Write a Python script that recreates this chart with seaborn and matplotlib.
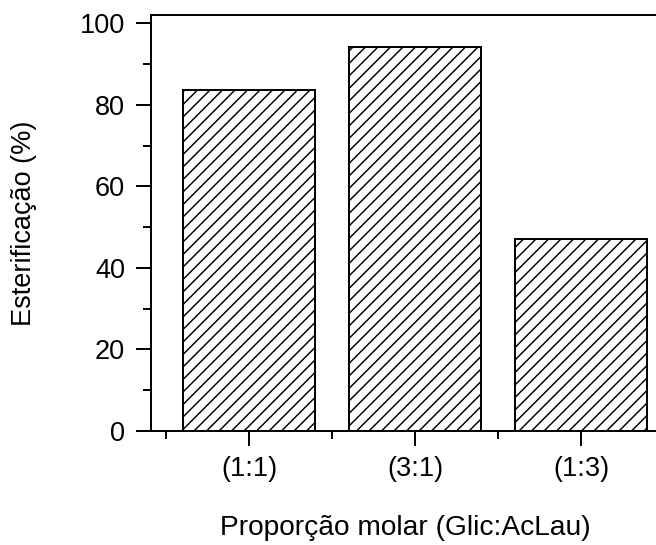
import matplotlib
matplotlib.use("Agg")
import matplotlib.pyplot as plt
import seaborn as sns
import pandas as pd
from matplotlib.ticker import FixedLocator

categories = ["(1:1)", "(3:1)", "(1:3)"]
values = [83.5, 94.1, 47.1]
y_ticks = [0, 20, 40, 60, 80, 100]
y_minor = [10, 30, 50, 70, 90]
x_label = "Proporção molar (Glic:AcLau)"
y_label = "Esterificação (%)"

sns.set_style("ticks")
plt.rcParams["font.family"] = ["Liberation Sans", "DejaVu Sans"]
plt.rcParams["hatch.linewidth"] = 1.4
plt.rcParams["hatch.color"] = "black"

DPI = 75
fig = plt.figure(figsize=(656 / DPI, 545 / DPI), dpi=DPI)
ax = fig.add_axes([151 / 656, (545 - 431) / 545, 528 / 656, 416 / 545])

df = pd.DataFrame({"cat": categories, "val": values})
sns.barplot(data=df, x="cat", y="val", ax=ax, order=categories, width=0.8,
            color="white", saturation=1, edgecolor="black", linewidth=1.9,
            hatch="//")
for p in ax.patches:
    p.set_facecolor("white")
    p.set_edgecolor("black")

ax.set_xlim(-0.59, 2.59)
ax.set_ylim(0, 102)
ax.yaxis.set_major_locator(FixedLocator(y_ticks))
ax.yaxis.set_minor_locator(FixedLocator(y_minor))
ax.xaxis.set_minor_locator(FixedLocator([-0.5, 0.5, 1.5, 2.5]))

for s in ["left", "top", "bottom"]:
    ax.spines[s].set_visible(True)
    ax.spines[s].set_linewidth(1.9)
    ax.spines[s].set_color("black")
ax.spines["right"].set_visible(False)

ax.tick_params(axis="both", which="major", direction="out", length=14, width=1.9,
               labelsize=26, pad=11, colors="black", top=False, right=False)
ax.tick_params(axis="both", which="minor", direction="out", length=7.5, width=1.9,
               colors="black", top=False, right=False)
ax.tick_params(axis="x", which="major", pad=10)

ax.set_xlabel(x_label, fontsize=27, color="black")
ax.set_ylabel(y_label, fontsize=26, color="black")
ax.xaxis.set_label_coords((405 - 151) / 528, -(535 - 431) / 416)
ax.xaxis.label.set_va("baseline")
ax.yaxis.set_label_coords(-(151 - 37) / 528, 0.5)

fig.savefig("out.png", dpi=DPI)
